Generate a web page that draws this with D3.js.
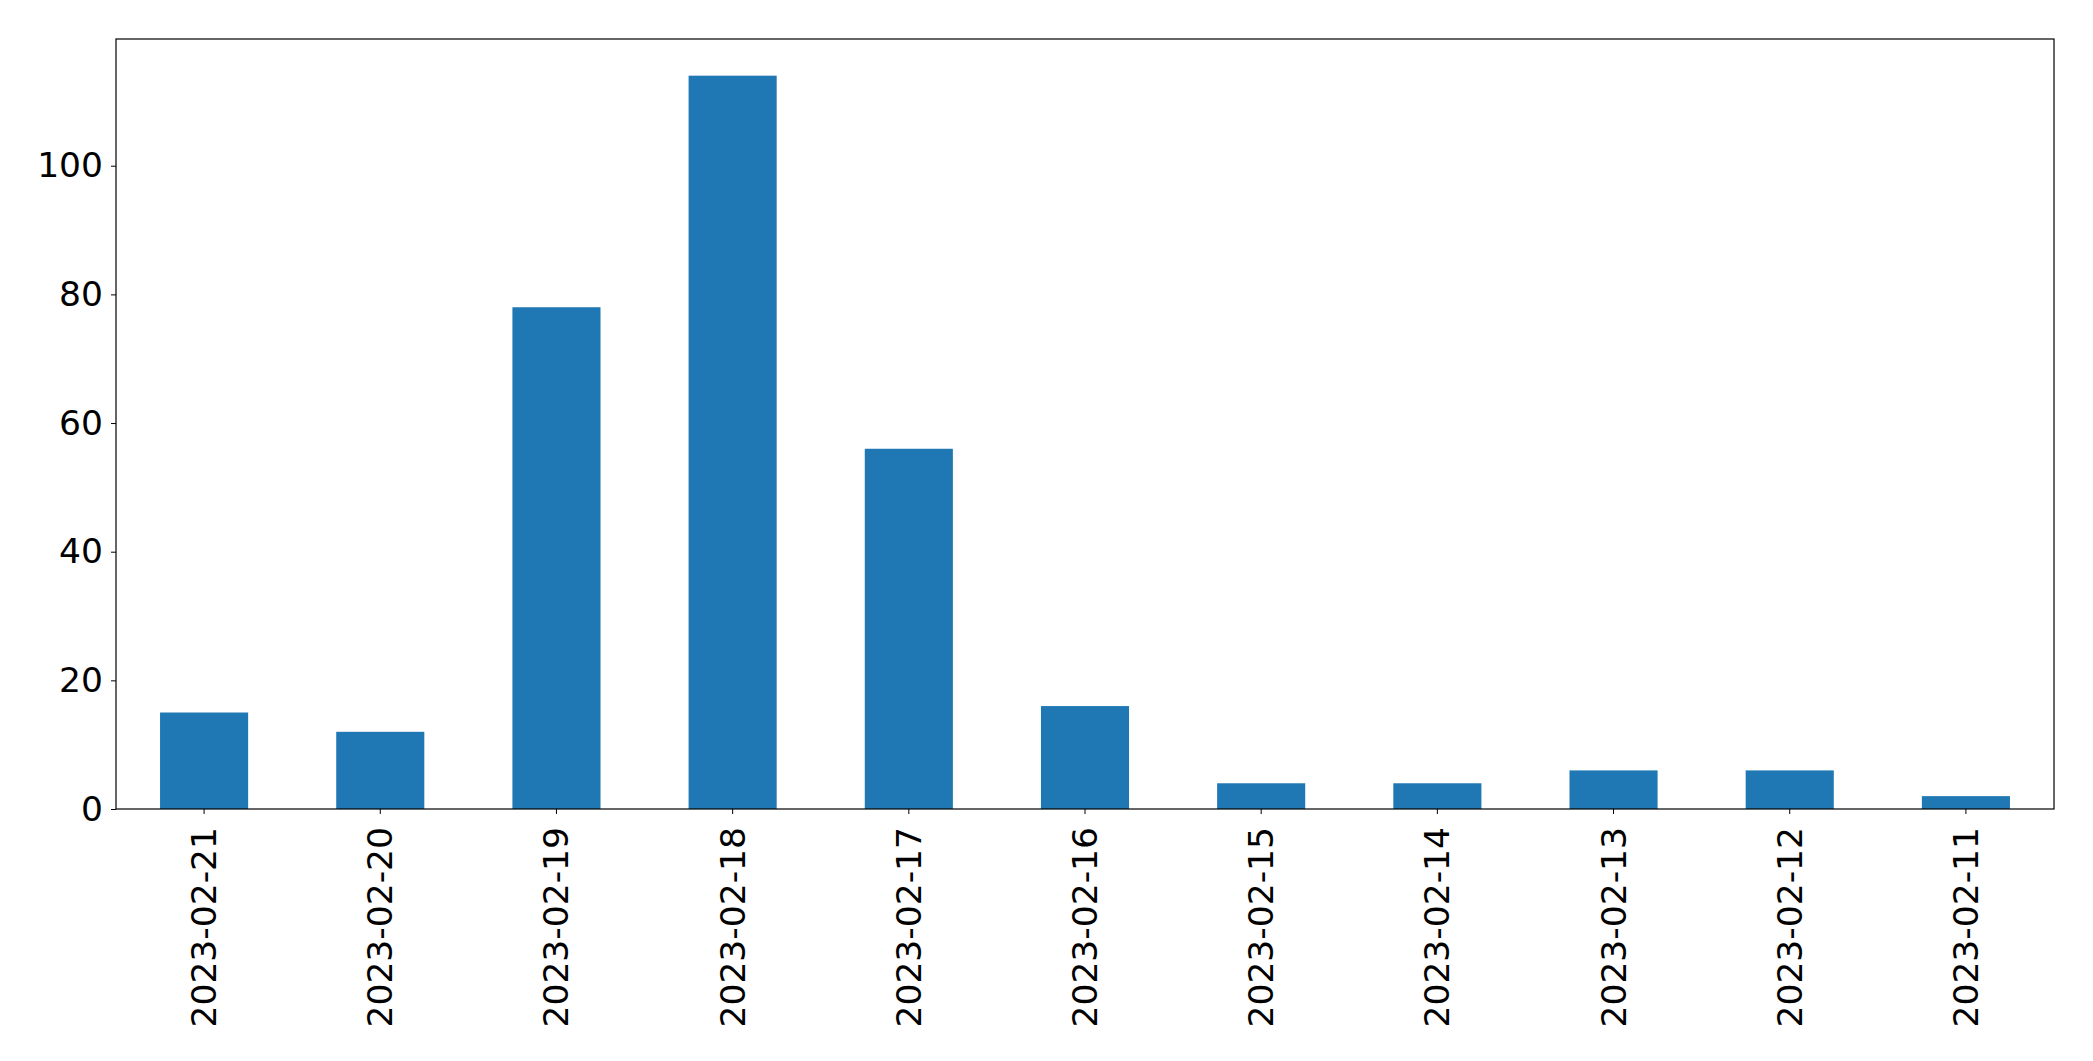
<!DOCTYPE html>
<html>
<head>
<meta charset="utf-8">
<script src="https://cdn.jsdelivr.net/npm/d3@7"></script>
<style>
  html, body { margin: 0; padding: 0; background: #fff; }
  svg { display: block; }
</style>
</head>
<body>
<svg id="chart" width="2093" height="1061"></svg>
<script>
const categories = ["2023-02-21","2023-02-20","2023-02-19","2023-02-18","2023-02-17","2023-02-16","2023-02-15","2023-02-14","2023-02-13","2023-02-12","2023-02-11"];
const values = [15, 12, 78, 114, 56, 16, 4, 4, 6, 6, 2];
const yTicks = [0, 20, 40, 60, 80, 100];

const svg = d3.select("#chart");
const margin = {left: 116, top: 39, right: 2093 - 2054, bottom: 1061 - 809};
const W = 2093 - margin.left - margin.right;
const H = 1061 - margin.top - margin.bottom;
const g = svg.append("g").attr("transform", `translate(${margin.left},${margin.top})`);

const x = d3.scaleBand().domain(categories).range([0, W]).paddingInner(0.5).paddingOuter(0.25);
const y = d3.scaleLinear().domain([0, d3.max(values) * 1.05]).range([H, 0]);

g.selectAll("rect.bar").data(values).enter().append("rect")
  .attr("class", "bar")
  .attr("x", (d, i) => x(categories[i]))
  .attr("width", x.bandwidth())
  .attr("y", d => y(d))
  .attr("height", d => H - y(d))
  .attr("fill", "#1f77b4");

const font = "DejaVu Sans, sans-serif";
const fs = "34.5px";

const yAxis = g.append("g").call(d3.axisLeft(y).tickValues(yTicks).tickSize(5).tickPadding(8).tickFormat(d3.format("d")));
yAxis.select(".domain").remove();
yAxis.selectAll("text").attr("font-family", font).attr("font-size", fs).attr("fill", "#000");
yAxis.selectAll("line").attr("stroke", "#000").attr("stroke-width", 1);

const xAxis = g.append("g").attr("transform", `translate(0,${H})`).call(d3.axisBottom(x).tickSize(5).tickPadding(0));
xAxis.select(".domain").remove();
xAxis.selectAll("line").attr("stroke", "#000").attr("stroke-width", 1);
xAxis.selectAll("text")
  .attr("font-family", font).attr("font-size", fs).attr("fill", "#000")
  .attr("text-anchor", "end")
  .attr("dy", null)
  .attr("transform", "rotate(-90)")
  .attr("x", -18)
  .attr("y", 0)
  .attr("dominant-baseline", "central");

g.append("rect").attr("x", 0).attr("y", 0).attr("width", W).attr("height", H)
  .attr("fill", "none").attr("stroke", "#000").attr("stroke-width", 1.2);
</script>
</body>
</html>
